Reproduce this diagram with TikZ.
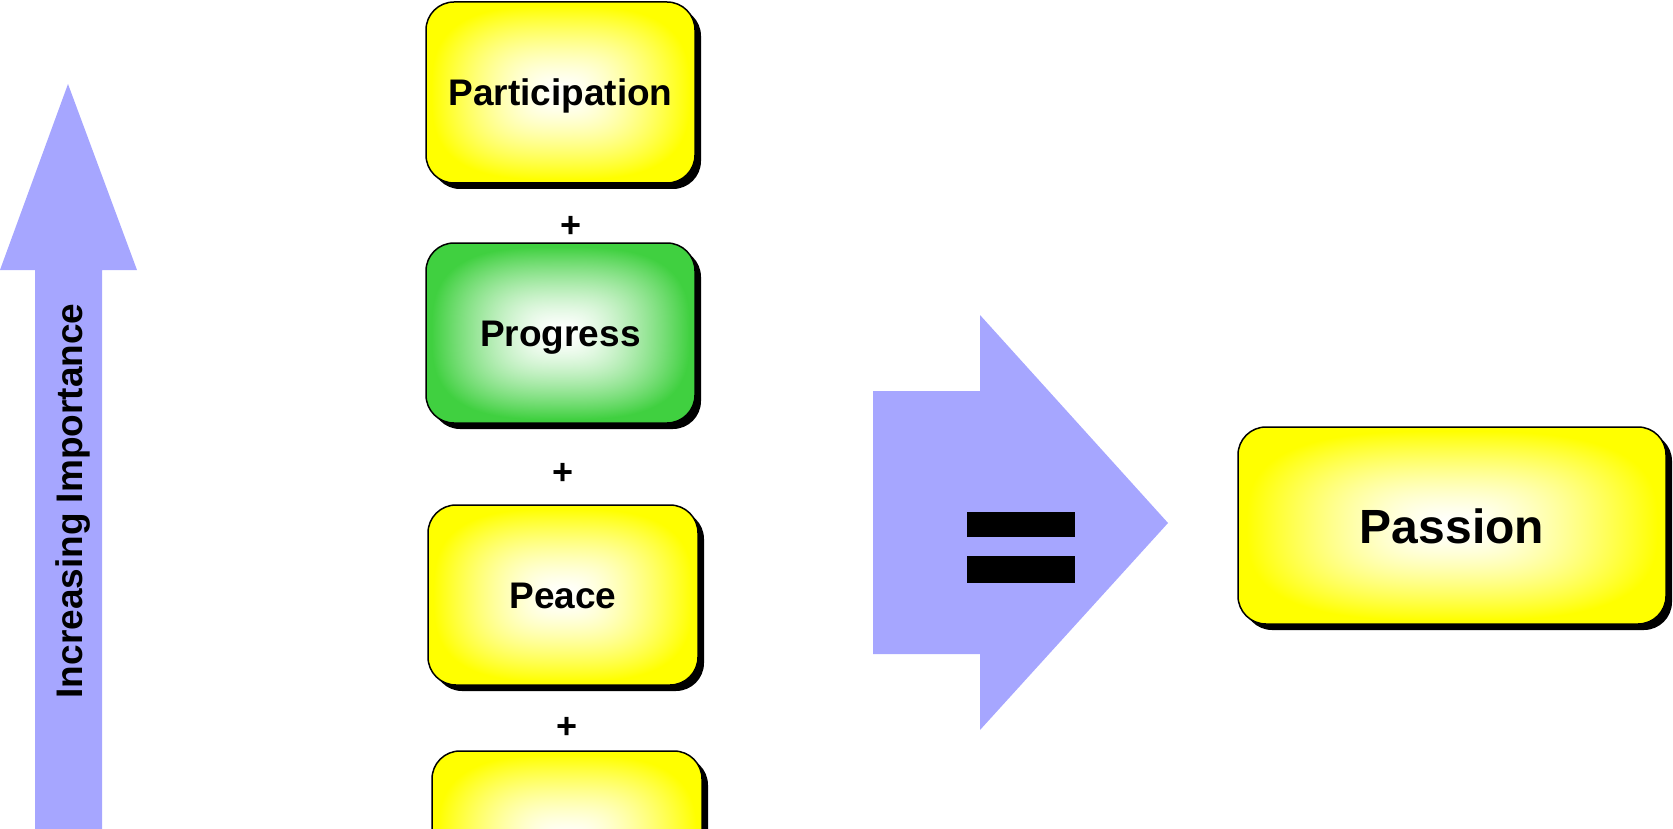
\documentclass[tikz,border=0pt]{standalone}
\usepackage{fontspec}
\setmainfont{Liberation Sans}
\usetikzlibrary{shadows}
\pgfdeclarefunctionalshading{yelrect}{\pgfpoint{0bp}{0bp}}{\pgfpoint{100bp}{100bp}}{}{
 50 sub abs 24 div 3 exp exch 50 sub abs 24 div 3 exp add 0.3333 exp dup 1 gt {pop 1} if 1.5 exp
 1 exch sub 1 exch 1 exch }
\pgfdeclarefunctionalshading{grnrect}{\pgfpoint{0bp}{0bp}}{\pgfpoint{100bp}{100bp}}{}{
 50 sub abs 24 div 3 exp exch 50 sub abs 24 div 3 exp add 0.3333 exp dup 1 gt {pop 1} if 1.5 exp
 dup 0.75 mul 1 exch sub exch dup 0.184 mul 1 exch sub exch 0.75 mul 1 exch sub }
\definecolor{arrowblue}{RGB}{166,166,255}
\tikzset{
  box/.style={draw=black, line width=1.5pt, rounded corners=28pt, inner sep=0pt,
    shade, shading=yelrect,
    drop shadow={shadow xshift=6pt, shadow yshift=-6pt, fill=black, opacity=1},
    font=\bfseries\fontsize{37}{40}\selectfont, text height=27pt, text depth=0pt},
  greenbox/.style={box, shading=grnrect},
  plus/.style={font=\bfseries\fontsize{36}{40}\selectfont, inner sep=0pt},
  bigarrow/.style={fill=arrowblue, draw=none}
}
\begin{document}
\begin{tikzpicture}[x=1pt,y=-1pt]
\useasboundingbox (0,0) rectangle (1673,829);
\clip (0,0) rectangle (1673,829);
% left arrow
\fill[bigarrow] (35,835) -- (35,270) -- (0,270) -- (68,84) -- (137,270) -- (102,270) -- (102,835) -- cycle;
\node[rotate=90, anchor=base, font=\bfseries\fontsize{37}{40}\selectfont, inner sep=0pt] (imp) at (82,501) {Increasing Importance};
% boxes
\node[box, minimum width=269pt, minimum height=181pt] (part) at (560.5,92.5) {Participation};
\node[greenbox, minimum width=269pt, minimum height=180pt] (prog) at (560.5,333) {Progress};
\node[box, minimum width=270pt, minimum height=180pt] (peace) at (563,595) {Peace};
\node[box, minimum width=270pt, minimum height=180pt] (fourth) at (567,841) {};
\node[plus] (p1) at (571,227) {+};
\node[plus] (p2) at (563,474) {+};
\node[plus] (p3) at (567,728) {+};
% equals arrow
\fill[bigarrow] (873,391) -- (980,391) -- (980,315) -- (1168,523) -- (980,730) -- (980,654) -- (873,654) -- cycle;
\fill[black] (967,512) rectangle (1075,537);
\fill[black] (967,556) rectangle (1075,583);
% result
\node[box, minimum width=428pt, minimum height=197pt, font=\bfseries\fontsize{48}{52}\selectfont, text height=35pt] (pass) at (1452,525.5) {Passion};
\end{tikzpicture}
\end{document}
